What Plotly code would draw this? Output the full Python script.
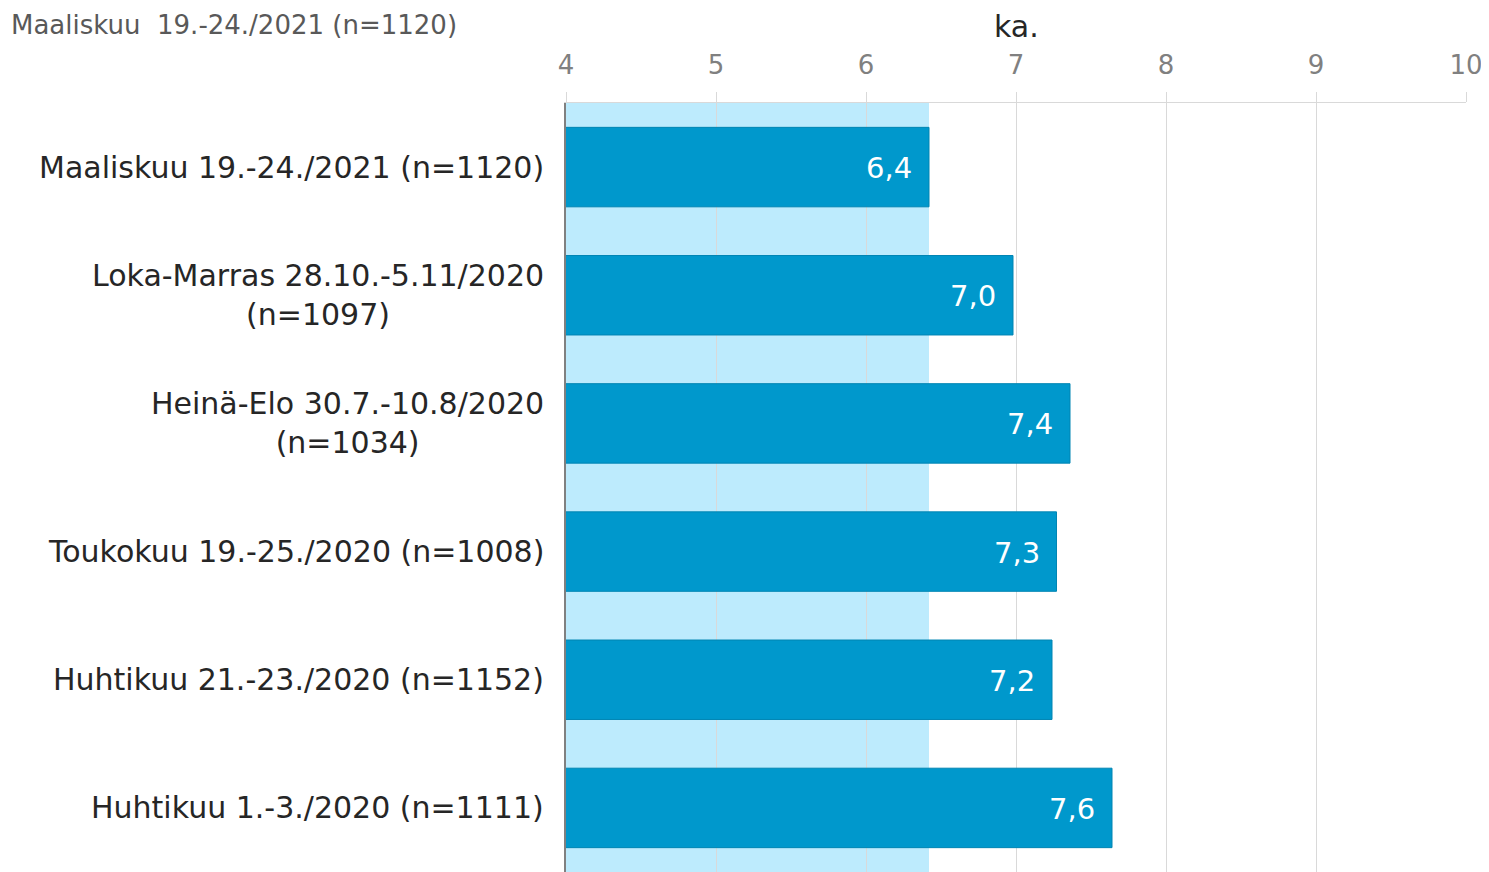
import plotly.graph_objects as go

categories = [
    "Maaliskuu 19.-24./2021 (n=1120)",
    "Loka-Marras 28.10.-5.11/2020<br>(n=1097)",
    "Heinä-Elo 30.7.-10.8/2020<br>(n=1034)",
    "Toukokuu 19.-25./2020 (n=1008)",
    "Huhtikuu 21.-23./2020 (n=1152)",
    "Huhtikuu 1.-3./2020 (n=1111)",
]
values = [6.42, 6.98, 7.36, 7.27, 7.24, 7.64]
labels = ["6,4", "7,0", "7,4", "7,3", "7,2", "7,6"]
reference_value = 6.42
x_ticks = [4, 5, 6, 7, 8, 9, 10]
title_text = "Maaliskuu  19.-24./2021 (n=1120)"
axis_title = "ka."

# page body has an 8px margin; compensate so the plot lands where the reference has it
OFF = 8
W, H = 1489 - OFF, 872 - OFF
ML, MR, MT, MB = 566 - OFF, 23, 103 - OFF, 0
PW, PH = W - ML - MR, H - MT - MB

fig = go.Figure()
fig.add_trace(go.Bar(
    y=categories, x=values, orientation="h",
    marker=dict(color="#0098CC", line=dict(color="#0085B3", width=1)),
    width=0.62, hoverinfo="skip",
))

fig.add_shape(type="rect", xref="x", yref="y domain",
              x0=x_ticks[0], x1=reference_value, y0=0, y1=1,
              fillcolor="#BDEBFD", line=dict(width=0), layer="below")

# value labels inside bar ends
for c, v, t in zip(categories, values, labels):
    fig.add_annotation(x=v, xref="x", y=c, yref="y", text=t, showarrow=False,
                       xanchor="right", xshift=-15, yshift=-1,
                       font=dict(size=29, family="DejaVu Sans", color="white"))

# category labels
for c in categories:
    fig.add_annotation(x=-20 / PW, xref="paper", y=c, yref="y",
                       text=c, showarrow=False, xanchor="right", align="center",
                       font=dict(size=30, family="DejaVu Sans", color="#262626"))

# chart title (top-left)
fig.add_annotation(x=-(ML - 1) / PW, xref="paper", y=1 + MT / PH, yref="paper",
                   yanchor="top", xanchor="left",
                   text=title_text, showarrow=False,
                   font=dict(size=26, family="DejaVu Sans", color="#595959"))

# axis title
fig.add_annotation(x=0.5, xref="paper", y=1 + (MT - (27 - OFF)) / PH, yref="paper",
                   yanchor="middle", xanchor="center",
                   text=axis_title, showarrow=False,
                   font=dict(size=30, family="DejaVu Sans", color="#262626"))

fig.update_layout(
    width=W, height=H,
    margin=dict(l=ML, r=MR, t=MT, b=MB),
    plot_bgcolor="white", paper_bgcolor="white",
    showlegend=False, bargap=0.38,
    font=dict(family="DejaVu Sans"),
)
fig.update_xaxes(
    side="top", range=[4, 10], tickvals=x_ticks,
    showgrid=True, gridcolor="#D9D9D9", gridwidth=1,
    ticks="outside", ticklen=10, tickcolor="#D9D9D9",
    ticklabelstandoff=8,
    tickfont=dict(size=26, color="#808080"),
    showline=True, linecolor="#D9D9D9", zeroline=False,
)
fig.update_yaxes(
    autorange="reversed", showticklabels=False,
    showline=True, linecolor="#808080", linewidth=1.5, showgrid=False,
)

fig.write_html("out.html")
